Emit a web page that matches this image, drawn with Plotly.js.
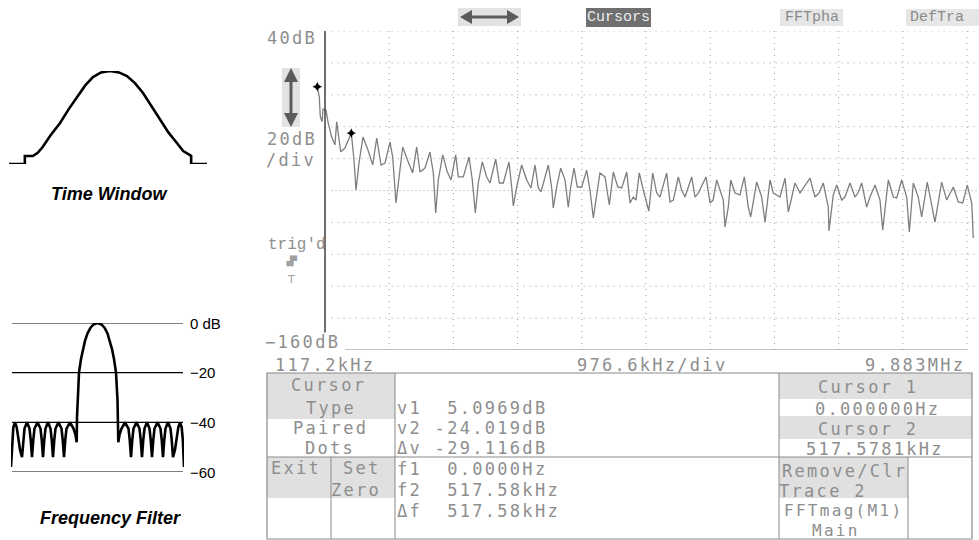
<!DOCTYPE html>
<html><head><meta charset="utf-8">
<script src="https://cdn.plot.ly/plotly-3.0.1.min.js"></script>
<style>
html,body{margin:0;padding:0;background:#fff;}
#chart{width:979px;height:540px;}
.annotation-text[style*="DejaVu Sans Mono"]{letter-spacing:2.3px;}
</style>
</head><body><div id="chart"></div>
<script>
// ---------------- data ----------------
// FFT magnitude trace (frequency in kHz, level in dB)
const freqKHz = [0,30,46,72,87,132,163,219,269,295,356,421,517.6,558,589,634,695,771,843,904,969,1030,1106,1147,1197,1258,1299,1384,1451,1512,1562,1638,1714,1765,1801,1841,1908,1978,2034,2105,2145,2221,2308,2358,2404,2449,2510,2577,2627,2714,2769,2830,2916,2957,2982,3033,3109,3185,3251,3312,3362,3403,3514,3566,3590,3642,3703,3768,3818,3855,3905,3955,4022,4098,4148,4199,4250,4300,4377,4442,4503,4570,4631,4707,4757,4807,4848,4898,4959,5043,5102,5163,5213,5315,5365,5416,5492,5543,5594,5695,5746,5796,5913,5974,6020,6076,6176,6202,6252,6289,6354,6430,6496,6556,6593,6684,6760,6811,6887,6937,7039,7115,7165,7267,7343,7404,7495,7571,7632,7697,7773,7784,7849,7901,7977,8027,8103,8180,8225,8281,8357,8408,8484,8560,8601,8643,8686,8762,8814,8890,8966,9006,9066,9142,9194,9279,9346,9396,9498,9574,9675,9751,9818,9888,9955,9979];
const levelDB = [5.1,-1.2,-13.7,-16.9,-8.9,-9.5,-17.1,-26.5,-31.5,-16.9,-35.7,-33.4,-24.0,-40.9,-59.7,-42.8,-26.5,-34.6,-44.0,-27.1,-44.0,-42.8,-29.6,-39.0,-67.8,-45.3,-32.7,-42.1,-49.0,-32.7,-48.4,-45.9,-35.9,-49.0,-74.1,-53.4,-37.7,-48.4,-53.4,-37.7,-51.5,-51.5,-39.0,-53.4,-74.1,-55.3,-42.1,-51.5,-55.3,-40.3,-55.3,-55.3,-42.1,-57.8,-69.7,-57.8,-44.0,-53.4,-58.4,-44.0,-58.4,-60.9,-44.0,-58.4,-71.0,-57.8,-45.9,-53.4,-70.4,-57.8,-45.9,-57.8,-57.8,-47.2,-59.7,-77.2,-61.6,-49.0,-51.5,-69.1,-48.4,-57.8,-58.4,-48.4,-67.8,-64.1,-66.0,-49.0,-59.7,-72.9,-49.0,-61.6,-64.1,-49.0,-67.2,-66.0,-51.5,-59.7,-64.1,-51.5,-64.1,-61.6,-51.5,-67.8,-66.0,-53.4,-66.0,-82.9,-70.4,-53.4,-61.6,-62.8,-51.5,-70.4,-76.6,-54.7,-64.1,-79.8,-53.4,-61.6,-64.1,-52.2,-73.5,-55.3,-61.6,-57.8,-52.2,-64.1,-61.6,-55.3,-70.4,-85.4,-62.8,-56.6,-66.0,-64.1,-55.3,-64.1,-61.6,-55.3,-70.4,-64.1,-56.6,-66.0,-84.8,-69.1,-53.4,-64.1,-64.7,-53.4,-64.1,-86.0,-55.3,-64.1,-76.6,-54.7,-70.4,-79.8,-54.7,-66.0,-57.8,-67.2,-67.8,-56.6,-67.8,-89.8];
// paired-dot cursors
const cursorFreqKHz = [0, 517.58];
const cursorLevelDB = [5.0969, -24.019];
// screen divisions
const startFreqKHz = 117.2;
const stopFreqKHz = 9883.2;
const divFreqKHz = [1093.8,2070.4,3047.0,4023.6,5000.2,5976.8,6953.4,7930.0,8906.6,9883.2];
const divLevelDB = [40,20,0,-20,-40,-60,-80,-100,-120,-140];
const bottomDB = -160;
// readouts
const scaleLabels = ['40dB','20dB','/div','trig\'d','\u2212160dB'];
const freqLabels = ['117.2kHz','976.6kHz/div','9.883MHz'];
const readoutLines = ['v1  5.0969dB','v2 -24.019dB','\u0394v -29.116dB','f1  0.0000Hz','f2  517.58kHz','\u0394f  517.58kHz'];
const menuLabels = ['Cursors','FFTpha','DefTra'];
// time window sketch (relative time %, relative amplitude)
const windowTime = [0,8,8,12,14.5,17,21,25.8,30,34.3,38.5,42.4,46.5,51,55.5,59.6,63.6,67.7,72,76.3,80.5,84.8,88,91.4,92,92,100];
const windowAmp  = [0,0,0.086,0.086,0.12,0.183,0.31,0.441,0.585,0.72,0.845,0.935,0.985,1.0,0.985,0.946,0.87,0.763,0.62,0.473,0.34,0.226,0.14,0.095,0.086,0,0];
// frequency filter sketch (bins, dB)
const filterBin = [-86.5,-85.3,-84.2,-82.5,-80.8,-79.3,-77.5,-75.5,-74.2,-73.0,-70.5,-68.0,-66.8,-65.5,-64.2,-63.0,-60.0,-57.0,-55.8,-54.5,-53.2,-52.0,-49.5,-47.0,-45.8,-44.5,-43.2,-42.0,-39.0,-36.0,-34.8,-33.5,-32.2,-31.0,-27.5,-24.0,-22.0,-20.8,
 -20.5,-20.0,-18.5,-16.5,-14.5,-12.5,-10,-7,-4,0,4,7,10,12.5,14.5,16.5,18.5,20.0,20.5,
 20.8,22.0,24.0,27.5,31.0,32.2,33.5,34.8,36.0,39.0,42.0,43.2,44.5,45.8,47.0,49.5,52.0,53.2,54.5,55.8,57.0,60.0,63.0,64.2,65.5,66.8,68.0,70.5,73.0,74.2,75.5,77.5,79.3,80.8,82.5,84.2,85.3,86.5];
const filterDB = [-58,-47,-42,-40,-42,-46,-51,-54,-47,-42.5,-40,-42.5,-47,-54,-47,-42.5,-40,-42.5,-47,-54,-47,-42.5,-40,-42.5,-47,-54,-47,-42.5,-40,-42.5,-47,-54,-47,-42.5,-40,-42.5,-45,-48,
 -38,-31,-20,-14.5,-10.5,-7.2,-4.2,-1.9,-0.6,0,-0.6,-1.9,-4.2,-7.2,-10.5,-14.5,-20,-31,-38,
 -48,-45,-42.5,-40,-42.5,-47,-54,-47,-42.5,-40,-42.5,-47,-54,-47,-42.5,-40,-42.5,-47,-54,-47,-42.5,-40,-42.5,-47,-54,-47,-42.5,-40,-42.5,-47,-54,-51,-46,-42,-40,-42,-47,-58];
const filterLevels = [0,-20,-40,-60];
const filterLabels = ['0 dB','\u221220','\u221240','\u221260'];

// ---------------- layout helpers ----------------
const W = 979, H = 540;
const PX = x => x / W, PY = y => 1 - y / H;
const MONO = 'DejaVu Sans Mono';
const GREY = '#8e8e8e';
const FS = 17;             // scope font size
const CHAR = 12.5;         // scope character pitch on screen
const shapes = [];
const ann = [];
function rectPx(x0, y0, x1, y1, fill, line) {
  shapes.push({type:'rect', xref:'paper', yref:'paper', x0:PX(x0), x1:PX(x1), y0:PY(y1), y1:PY(y0),
    fillcolor: fill || 'rgba(0,0,0,0)', line: line || {width:0}, layer:'below'});
}
function linePx(x0, y0, x1, y1, color, width) {
  shapes.push({type:'line', xref:'paper', yref:'paper', x0:PX(x0), x1:PX(x1), y0:PY(y0), y1:PY(y1),
    line:{color: color || '#8a8a8a', width: width || 1}});
}
function pathPx(pts, fill) {
  const d = pts.map((p, i) => (i ? 'L' : 'M') + PX(p[0]).toFixed(5) + ',' + PY(p[1]).toFixed(5)).join(' ') + ' Z';
  shapes.push({type:'path', xref:'paper', yref:'paper', path:d, fillcolor:fill, line:{width:0}});
}
function textPx(t, x, y, anchor, opts) {
  opts = opts || {};
  ann.push({text:t, xref:'paper', yref:'paper', x:PX(x), y:PY(y), xanchor:anchor || 'center', yanchor:'middle',
    align:'center', showarrow:false, borderpad:0,
    font:{family: opts.family || MONO, size: opts.size || FS, color: opts.color || GREY}});
}
// scope text: x is the left edge on screen; centred so letter spacing grows symmetrically
function scopeLeft(t, xLeft, y, opts) { textPx(t, xLeft + t.length * CHAR / 2, y, 'center', opts); }

// ---------------- main screen grid ----------------
divFreqKHz.forEach(f => shapes.push({type:'line', xref:'x', yref:'y', x0:f, x1:f, y0:bottomDB, y1:40,
  line:{color:'#9c9c9c', width:1, dash:'1px,5px'}, layer:'below'}));
divLevelDB.forEach(d => shapes.push({type:'line', xref:'x', yref:'y', x0:startFreqKHz + 100, x1:10070, y0:d, y1:d,
  line:{color:'#9c9c9c', width:1, dash: d === -60 ? '1px,3px' : '1px,5px'}, layer:'below'}));
shapes.push({type:'line', xref:'x', yref:'y', x0:421, x1:stopFreqKHz, y0:bottomDB, y1:bottomDB, line:{color:'#8a8a8a', width:1.2}});
shapes.push({type:'line', xref:'x', yref:'y', x0:startFreqKHz, x1:startFreqKHz, y0:-149, y1:40, line:{color:'#4a4a4a', width:1.6}});

// ---------------- top menu ----------------
rectPx(458, 8, 521, 26, '#e2e2e2');
linePx(468, 17, 511, 17, '#5a5a5a', 3);
pathPx([[460,17],[472,10],[472,24]], '#5a5a5a');
pathPx([[519,17],[507,10],[507,24]], '#5a5a5a');
rectPx(586, 8, 651, 27, '#6f6f6f');
textPx(menuLabels[0], 618.5, 17.5, 'center', {family:'Liberation Mono', size:15, color:'#ececec'});
rectPx(780, 9, 843, 26, '#e6e6e6');
textPx(menuLabels[1], 811.5, 17.5, 'center', {family:'Liberation Mono', size:15, color:'#8a8a8a'});
rectPx(906, 9, 979, 26, '#e6e6e6');
textPx(menuLabels[2], 909, 17.5, 'left', {family:'Liberation Mono', size:15, color:'#8a8a8a'});

// up/down scale arrow box
rectPx(282, 68, 300, 127, '#e2e2e2');
linePx(291, 78, 291, 117, '#5a5a5a', 3);
pathPx([[291,68],[284,82],[298,82]], '#5a5a5a');
pathPx([[291,127],[284,113],[298,113]], '#5a5a5a');

// left scale labels
textPx(scaleLabels[0], 292, 38);
textPx(scaleLabels[1], 292, 139);
textPx(scaleLabels[2], 291, 160);
textPx(scaleLabels[3], 267, 245, 'left', {family:'Liberation Mono', size:16});
textPx('\u2597\u259b', 290, 261, 'center', {family:'DejaVu Sans', size:9, color:'#a0a0a0'});
textPx('T', 291, 279, 'center', {family:'DejaVu Sans', size:11, color:'#a0a0a0'});
textPx(scaleLabels[4], 302, 342);
textPx(freqLabels[0], 325, 365);
textPx(freqLabels[1], 652, 365);
textPx(freqLabels[2], 915, 365);

// ---------------- bottom readout panel ----------------
const PANEL_FILL = '#e0e0e0';
rectPx(267, 373, 395, 419, PANEL_FILL);
rectPx(267, 457, 331, 498, PANEL_FILL);
rectPx(331, 457, 395, 498, PANEL_FILL);
rectPx(779, 373, 972, 399, PANEL_FILL);
rectPx(779, 416, 972, 439, PANEL_FILL);
rectPx(779, 457, 908, 498, PANEL_FILL);
rectPx(267, 373, 972, 539, null, {color:'#8a8a8a', width:1.2});
linePx(395, 373, 395, 539);
linePx(331, 457, 331, 539);
linePx(779, 373, 779, 539);
linePx(908, 457, 908, 539);
linePx(267, 457, 972, 457);

textPx('Cursor', 328, 385);
textPx('Type', 331, 408);
textPx('Paired', 330, 428);
textPx('Dots', 330, 448);
textPx('Exit', 296, 468);
textPx('Set', 362, 468);
textPx('Zero', 356, 490);
const readoutY = [408, 428, 448, 469, 490, 511];
readoutLines.forEach((t, i) => scopeLeft(t, 397, readoutY[i]));
textPx('Cursor 1', 868, 387);
textPx('0.000000Hz', 877, 409);
textPx('Cursor 2', 868, 429);
textPx('517.5781kHz', 875, 449);
textPx('Remove/Clr', 844, 471);
textPx('Trace 2', 823, 491);
textPx('FFTmag(M1)', 843, 510, 'center', {size:16});
textPx('Main', 836, 530, 'center', {size:16});

// ---------------- left sketches ----------------
filterLevels.forEach((lv, i) => {
  shapes.push({type:'line', xref:'x3', yref:'y3', x0:-85.5, x1:85.5, y0:lv, y1:lv, line:{color:'#000', width:1.2}});
  ann.push({text:filterLabels[i], xref:'paper', yref:'paper', x:PX(188), y:PY(323 - lv * 149 / 60),
    xanchor:'left', yanchor:'middle', showarrow:false,
    font:{family:'Liberation Sans, Arial', size:15, color:'#000'}});
});
textPx('<b><i>Time Window</i></b>', 109, 194, 'center', {family:'Liberation Sans, Arial', size:18, color:'#000'});
textPx('<b><i>Frequency Filter</i></b>', 110, 518, 'center', {family:'Liberation Sans, Arial', size:18, color:'#000'});

// ---------------- traces ----------------
const traces = [
  {x:freqKHz, y:levelDB, type:'scatter', mode:'lines', xaxis:'x', yaxis:'y',
   line:{color:'#7e7e7e', width:1.3}, hoverinfo:'skip'},
  {x:cursorFreqKHz, y:cursorLevelDB, type:'scatter', mode:'markers', xaxis:'x', yaxis:'y',
   marker:{symbol:'star-diamond', size:7, color:'#000'}, hoverinfo:'skip'},
  {x:windowTime, y:windowAmp, type:'scatter', mode:'lines', xaxis:'x2', yaxis:'y2',
   line:{color:'#000', width:2.6}, hoverinfo:'skip'},
  {x:filterBin, y:filterDB, type:'scatter', mode:'lines', xaxis:'x3', yaxis:'y3',
   line:{color:'#000', width:2.6}, hoverinfo:'skip'}
];

const hidden = {showgrid:false, zeroline:false, showticklabels:false, ticks:'', showline:false, fixedrange:true};
const layout = {
  width:W, height:H, autosize:false,
  margin:{l:0, r:0, t:0, b:0, pad:0},
  paper_bgcolor:'#fff', plot_bgcolor:'rgba(0,0,0,0)',
  showlegend:false,
  xaxis: Object.assign({}, hidden, {domain:[PX(312), 1], range:[-80.6, 10065.8]}),
  yaxis: Object.assign({}, hidden, {domain:[PY(350), PY(31)], range:[bottomDB, 40]}),
  xaxis2: Object.assign({}, hidden, {domain:[PX(9), PX(207)], range:[0, 100], anchor:'y2'}),
  yaxis2: Object.assign({}, hidden, {domain:[PY(164), PY(71)], range:[0, 1], anchor:'x2'}),
  xaxis3: Object.assign({}, hidden, {domain:[PX(11), PX(184)], range:[-86.5, 86.5], anchor:'y3'}),
  yaxis3: Object.assign({}, hidden, {domain:[PY(472), PY(323)], range:[-60, 0], anchor:'x3'}),
  shapes: shapes,
  annotations: ann
};
Plotly.newPlot('chart', traces, layout, {displayModeBar:false, staticPlot:true});
</script>
</body></html>
